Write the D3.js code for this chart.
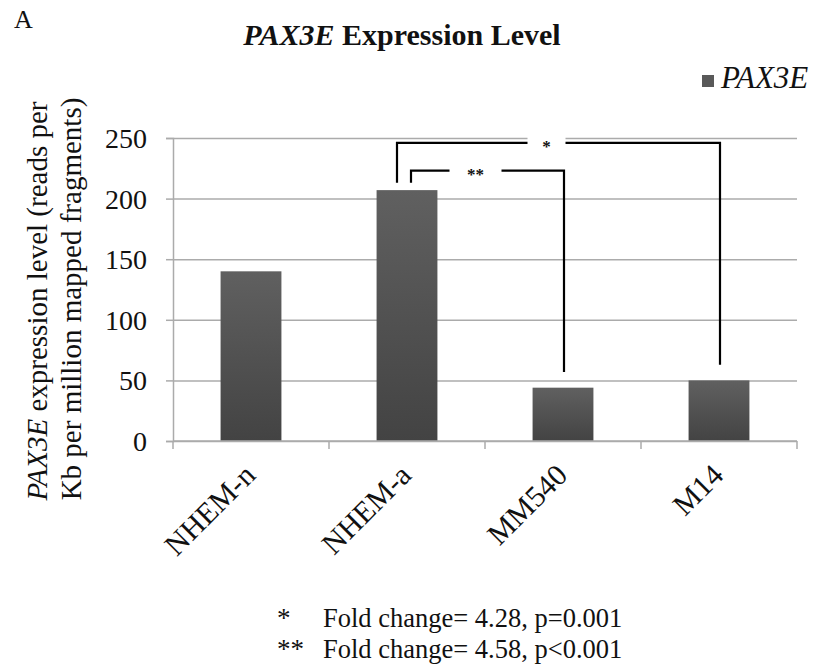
<!DOCTYPE html>
<html>
<head>
<meta charset="utf-8">
<script src="https://cdn.jsdelivr.net/npm/d3@7"></script>
<style>
  body { margin: 0; background: #fff; }
  svg text { font-family: "Liberation Serif", "Times New Roman", serif; fill: #111; }
</style>
</head>
<body>
<div id="chart"></div>
<script>
// data
const categories = ['NHEM-n', 'NHEM-a', 'MM540', 'M14'];
const values = [140, 207, 44, 50];
const yTicks = [0, 50, 100, 150, 200, 250];
// significance brackets (values in data units)
const bracketFrom = ['NHEM-a', 'NHEM-a'];
const bracketTo = ['M14', 'MM540'];
const bracketLabels = ['*', '**'];
const bracketLevels = [246, 223];
const footnotes = [['*', 'Fold change= 4.28, p=0.001'], ['**', 'Fold change= 4.58, p<0.001']];

const width = 814, height = 670;
const plotLeft = 173, plotRight = 797, plotTop = 138, plotBottom = 441;

const svg = d3.select('#chart').append('svg')
    .attr('width', width)
    .attr('height', height);

const defs = svg.append('defs');
const grad = defs.append('linearGradient')
    .attr('id', 'barGrad')
    .attr('x1', 0).attr('y1', 0).attr('x2', 0).attr('y2', 1);
grad.append('stop').attr('offset', '0%').attr('stop-color', '#606060');
grad.append('stop').attr('offset', '100%').attr('stop-color', '#434343');

const x = d3.scaleBand()
    .domain(categories)
    .range([plotLeft, plotRight])
    .paddingInner(0.61)
    .paddingOuter(0.305);

const y = d3.scaleLinear()
    .domain([0, 250])
    .range([plotBottom, plotTop]);

// panel letter + title
svg.append('text')
    .attr('x', 14).attr('y', 28)
    .style('font-size', '26px')
    .text('A');

const title = svg.append('text')
    .attr('x', 402).attr('y', 45)
    .attr('text-anchor', 'middle')
    .style('font-size', '30px')
    .style('font-weight', 'bold');
title.append('tspan').style('font-style', 'italic').text('PAX3E');
title.append('tspan').text(' Expression Level');

// gridlines
svg.append('g')
    .attr('transform', `translate(${plotLeft},0)`)
    .call(d3.axisLeft(y).tickValues(yTicks).tickSize(-(plotRight - plotLeft)).tickFormat(''))
    .call(g => g.select('.domain').remove())
    .call(g => g.selectAll('line').attr('stroke', '#ababab').attr('stroke-width', 1.5));

// y axis with labels
svg.append('g')
    .attr('transform', `translate(${plotLeft},0)`)
    .call(d3.axisLeft(y).tickValues(yTicks).tickSize(7).tickPadding(19))
    .call(g => g.select('.domain').attr('stroke', '#ababab').attr('stroke-width', 1.5))
    .call(g => g.selectAll('line').attr('stroke', '#ababab').attr('stroke-width', 1.5))
    .call(g => g.selectAll('text')
        .style('font-family', '"Liberation Serif", serif')
        .style('font-size', '28px')
        .attr('fill', '#111')
        .attr('dy', '0.34em'));

// y axis title
const yTitle = svg.append('text')
    .attr('transform', 'translate(47,301) rotate(-90)')
    .attr('text-anchor', 'middle')
    .style('font-size', '29px');
yTitle.append('tspan').style('font-style', 'italic').text('PAX3E');
yTitle.append('tspan').text(' expression level (reads per');
svg.append('text')
    .attr('transform', 'translate(81,299) rotate(-90)')
    .attr('text-anchor', 'middle')
    .style('font-size', '29px')
    .text('Kb per million mapped fragments)');

// bars
svg.append('g').selectAll('rect')
    .data(categories)
    .enter()
    .append('rect')
        .attr('x', d => x(d))
        .attr('y', (d, i) => y(values[i]))
        .attr('width', x.bandwidth())
        .attr('height', (d, i) => y(0) - y(values[i]))
        .attr('fill', 'url(#barGrad)');

// x axis line + boundary ticks
const gap = (x.step() - x.bandwidth()) / 2;
const bounds = categories.map(d => x(d) - gap).concat([plotRight]);
svg.append('line')
    .attr('x1', plotLeft).attr('x2', plotRight)
    .attr('y1', y(0)).attr('y2', y(0))
    .attr('stroke', '#ababab').attr('stroke-width', 1.5);
svg.append('g').selectAll('line')
    .data(bounds)
    .enter()
    .append('line')
        .attr('x1', d => d).attr('x2', d => d)
        .attr('y1', y(0)).attr('y2', y(0) + 8)
        .attr('stroke', '#ababab').attr('stroke-width', 1.5);

// category labels, rotated
svg.append('g').selectAll('text')
    .data(categories)
    .enter()
    .append('text')
        .attr('transform', d => `translate(${x(d) + x.bandwidth() / 2 + 6},477) rotate(-45)`)
        .attr('text-anchor', 'end')
        .style('font-size', '30px')
        .text(d => d);

// significance brackets
bracketLabels.forEach((lab, i) => {
    const isOuter = i === 0;
    const x1 = x(bracketFrom[i]) + x.bandwidth() / 2 + (isOuter ? -10 : 4);
    const x2 = x(bracketTo[i]) + x.bandwidth() / 2 + 1;
    const yl = y(bracketLevels[i]);
    const y1 = y(values[categories.indexOf(bracketFrom[i])] + 6);
    const y2 = y(values[categories.indexOf(bracketTo[i])] + 13);
    const mid = (x1 + x2) / 2 - 12;
    const half = isOuter ? 19 : 26;
    svg.append('rect')
        .attr('x', mid - half).attr('y', yl - 8)
        .attr('width', half * 2).attr('height', 16)
        .attr('fill', '#fff');
    svg.append('path')
        .attr('d', `M${x1},${y1}V${yl}H${mid - half}M${mid + half},${yl}H${x2}V${y2}`)
        .attr('fill', 'none')
        .attr('stroke', '#000')
        .attr('stroke-width', 2.2);
    svg.append('text')
        .attr('x', mid).attr('y', yl + 9)
        .attr('text-anchor', 'middle')
        .style('font-size', '17px')
        .style('font-weight', 'bold')
        .text(lab);
});

// legend
svg.append('rect')
    .attr('x', 702).attr('y', 75)
    .attr('width', 12).attr('height', 12)
    .attr('fill', '#595959');
svg.append('text')
    .attr('x', 721).attr('y', 88)
    .style('font-size', '31px')
    .style('font-style', 'italic')
    .text('PAX3E');

// footnotes
footnotes.forEach((f, i) => {
    svg.append('text')
        .attr('x', 277).attr('y', 627 + i * 31)
        .style('font-size', '27px')
        .text(f[0]);
    svg.append('text')
        .attr('x', 323).attr('y', 627 + i * 31)
        .style('font-size', '26.5px')
        .text(f[1]);
});
</script>
</body>
</html>
